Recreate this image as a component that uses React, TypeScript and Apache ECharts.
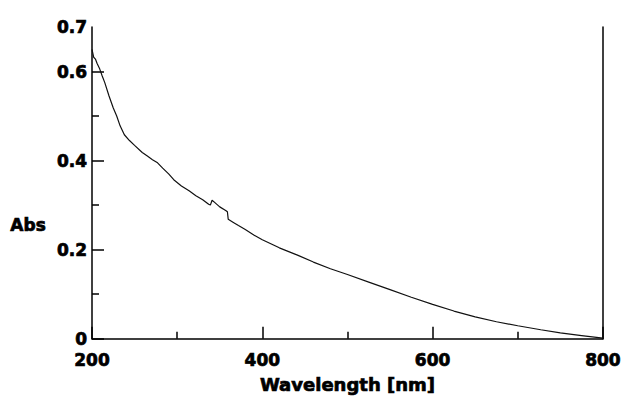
import React, { useEffect, useRef } from "react";
import * as echarts from "echarts";

const wavelengths = [
  200, 202, 204, 206, 209, 212, 215, 220, 225, 229, 233, 238, 244, 250, 259, 265, 271, 277, 283, 290,
  296, 305, 314, 322, 330, 337, 339, 341, 344, 350, 357, 359, 360, 366, 372, 380, 390, 400, 420, 442,
  460, 480, 500, 525, 550, 575, 600, 625, 650, 675, 700, 727, 750, 775, 800,
];
const absorbance = [
  0.65, 0.632, 0.628, 0.618, 0.606, 0.59, 0.575, 0.545, 0.518, 0.5, 0.478, 0.458, 0.445, 0.434, 0.418,
  0.41, 0.402, 0.395, 0.383, 0.37, 0.357, 0.343, 0.332, 0.321, 0.312, 0.302, 0.3, 0.311, 0.306, 0.296,
  0.288, 0.285, 0.268, 0.261, 0.254, 0.245, 0.233, 0.222, 0.204, 0.187, 0.172, 0.157, 0.144, 0.127,
  0.11, 0.093, 0.077, 0.062, 0.049, 0.038, 0.029, 0.02, 0.013, 0.007, 0.001,
];
const yLabelValues = [0, 0.2, 0.4, 0.6, 0.7];
const yMajorTicks = [0, 0.2, 0.4, 0.6];
const yMinorTicks = [0.1, 0.3, 0.5];
const xTitle = "Wavelength [nm]";
const yTitle = "Abs";

const FONT = "DejaVu Sans";

export default function App() {
  const ref = useRef<HTMLDivElement>(null);
  useEffect(() => {
    if (!ref.current) return;
    const chart = echarts.init(ref.current, null, { renderer: "svg" });
    const labelStyle = {
      color: "#000",
      fontFamily: FONT,
      fontWeight: "bold" as const,
      fontSize: 17,
      textBorderColor: "#000",
      textBorderWidth: 0.7,
    };
    const tickLine = { color: "#000", width: 1.5 };
    chart.setOption({
      animation: false,
      backgroundColor: "#fff",
      grid: { left: 92, right: 16, top: 27, bottom: 57 },
      xAxis: {
        type: "value",
        min: 200,
        max: 800,
        interval: 200,
        name: xTitle,
        nameLocation: "middle",
        nameGap: 37,
        nameTextStyle: { ...labelStyle, fontSize: 18 },
        axisLine: { show: true, lineStyle: tickLine },
        axisTick: { show: true, inside: true, length: 12, lineStyle: tickLine },
        minorTick: { show: true, splitNumber: 2, length: 7, lineStyle: tickLine },
        axisLabel: { ...labelStyle, margin: 13 },
        splitLine: { show: false },
      },
      yAxis: [
        {
          type: "value",
          min: 0,
          max: 0.7,
          interval: 0.2,
          axisLine: { show: true, lineStyle: tickLine },
          axisTick: { show: true, inside: true, length: 12, lineStyle: tickLine, customValues: yMajorTicks },
          minorTick: { show: false },
          axisLabel: {
            ...labelStyle,
            margin: 5,
            customValues: yLabelValues,
            formatter: (v: number) => (v === 0 ? "0" : v.toFixed(1)),
          },
          splitLine: { show: false },
        },
        {
          type: "value",
          min: 0,
          max: 0.7,
          position: "right",
          axisLine: { show: true, onZero: false, lineStyle: tickLine },
          axisTick: { show: false },
          axisLabel: { show: false },
          splitLine: { show: false },
        },
        {
          type: "value",
          min: 0,
          max: 0.7,
          position: "left",
          axisLine: { show: false },
          axisTick: { show: true, inside: true, length: 7, lineStyle: tickLine, customValues: yMinorTicks },
          axisLabel: { show: false },
          splitLine: { show: false },
        },
      ],
      graphic: [
        {
          type: "text",
          left: 10,
          top: 216,
          style: { text: yTitle, fill: "#000", font: `bold 17px "${FONT}"`, stroke: "#000", lineWidth: 0.7 },
        },
      ],
      series: [
        {
          type: "line",
          data: wavelengths.map((w, i) => [w, absorbance[i]]),
          showSymbol: false,
          lineStyle: { color: "#111", width: 1.2 },
          clip: true,
        },
      ],
    });
    return () => chart.dispose();
  }, []);
  return (
    <div
      ref={ref}
      style={{ position: "absolute", left: 0, top: 0, width: 624, height: 399, background: "#fff" }}
    />
  );
}
